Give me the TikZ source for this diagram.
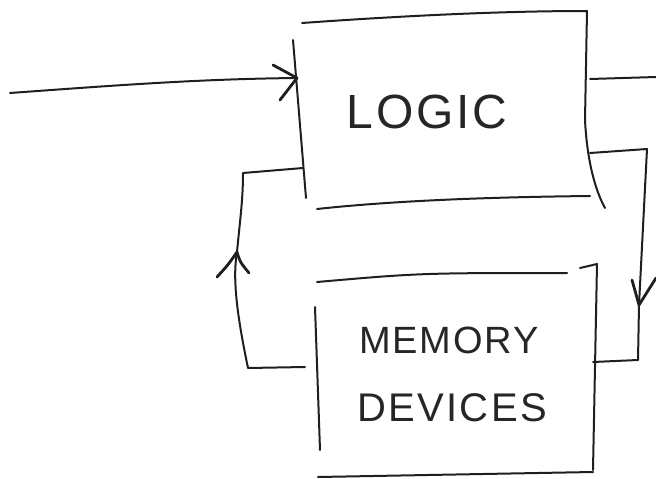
\documentclass[tikz,border=0pt]{standalone}
\usepackage{fontspec}
\setmainfont{Liberation Sans}
\begin{document}
\begin{tikzpicture}[x=1pt,y=-1pt,
  pen/.style={draw=black!88,line width=2pt,line cap=round,line join=round},
  tip/.style={draw=black!88,line width=2.8pt,line cap=round,line join=round},
  txt/.style={inner sep=0pt,text=black!85}]
\useasboundingbox (0,0) rectangle (656,479);
% text nodes
\node[txt,font=\fontsize{48}{50}\selectfont\addfontfeatures{LetterSpace=6}] (logic) at (427,112) {LOGIC};
\node[txt,font=\fontsize{38}{40}\selectfont\addfontfeatures{LetterSpace=5}] (mem) at (449,340) {MEMORY};
\node[txt,font=\fontsize{40}{42}\selectfont\addfontfeatures{LetterSpace=6}] (dev) at (452,408) {DEVICES};
% logic box corners
\coordinate (LtopL) at (302,23);
\coordinate (LtopR) at (587,11);
\coordinate (LrM) at (585,120);
\coordinate (LrB) at (605,208);
\coordinate (LlT) at (293,40);
\coordinate (LlB) at (306,198);
\coordinate (LbL) at (317,209);
\coordinate (LbR) at (590,196);
\draw[pen] (LtopL) .. controls (400,16) and (500,11) .. (LtopR) -- (LrM) .. controls (587,160) and (595,190) .. (LrB);
\draw[pen] (LlT) -- (LlB);
\draw[pen] (LbL) .. controls (400,200) and (500,197) .. (LbR);
% memory box
\coordinate (MtopL) at (317,282);
\coordinate (MtopM) at (567,273);
\coordinate (MtopR) at (597,264);
\coordinate (MrB) at (593,470);
\coordinate (MlT) at (315,307);
\coordinate (MlB) at (320,450);
\coordinate (MbL) at (318,477);
\coordinate (MbR) at (593,472);
\draw[pen] (MtopL) .. controls (420,273) .. (MtopM);
\draw[pen] (580,268) -- (MtopR) -- (MrB);
\draw[pen] (MlT) -- (MlB);
\draw[pen] (MbL) -- (MbR);
% input
\coordinate (in) at (10,93);
\coordinate (inEnd) at (297,78);
\draw[pen] (in) .. controls (120,85) and (200,79) .. (inEnd);
\draw[tip] (273,65) -- (inEnd) -- (280,100);
% output
\coordinate (outS) at (590,79);
\coordinate (outE) at (656,77);
\draw[pen] (outS) -- (outE);
% right feedback: logic -> memory
\coordinate (rf1) at (590,153);
\coordinate (rf2) at (647,149);
\coordinate (rfA) at (639,305);
\coordinate (rf3) at (638,360);
\coordinate (rf4) at (593,362);
\draw[pen] (rf1) -- (rf2) -- (rfA) -- (rf3) -- (rf4);
\draw[tip] (632,280) -- (rfA) -- (656,278);
% left feedback: memory -> logic
\coordinate (lf1) at (305,367);
\coordinate (lf2) at (248,368);
\coordinate (lfA) at (237,252);
\coordinate (lf3) at (243,173);
\coordinate (lf4) at (303,168);
\draw[pen] (lf1) -- (lf2) .. controls (238,320) and (232,280) .. (lfA) .. controls (240,220) and (243,200) .. (lf3) -- (lf4);
\draw[tip] (217,277) .. controls (228,265) .. (lfA) .. controls (240,262) .. (249,273);
\end{tikzpicture}
\end{document}
